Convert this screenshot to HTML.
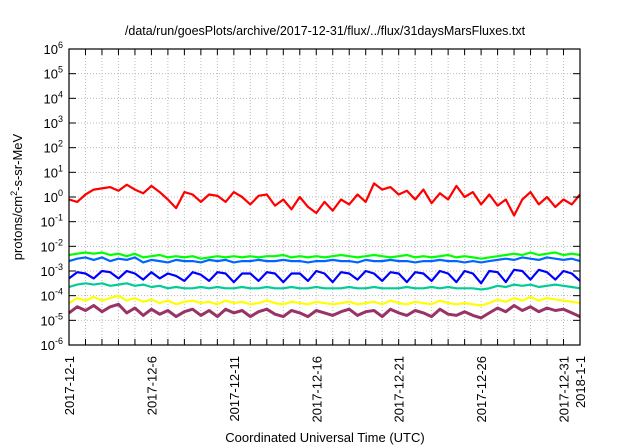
<!DOCTYPE html>
<html><head><meta charset="utf-8"><style>
body{margin:0;background:#fff;}
svg{display:block;font-family:"Liberation Sans",sans-serif;}
</style></head><body>
<svg id="chart" width="640" height="448" viewBox="0 0 640 448">
<text x="325" y="35" font-size="12.5" text-anchor="middle">/data/run/goesPlots/archive/2017-12-31/flux/../flux/31daysMarsFluxes.txt</text>
<text x="325" y="442" font-size="13" text-anchor="middle">Coordinated Universal Time (UTC)</text>
<text transform="translate(22,197) rotate(-90)" font-size="13" text-anchor="middle">protons/cm<tspan font-size="9" dy="-5">2</tspan><tspan dy="5">-s-sr-MeV</tspan></text>
<g id="grid"></g><g id="series"></g><g id="axes"></g>
</svg>
<script>
const yTickExps=[6,5,4,3,2,1,0,-1,-2,-3,-4,-5,-6];
const xTickLabels=["2017-12-1","2017-12-6","2017-12-11","2017-12-16","2017-12-21","2017-12-26","2017-12-31","2018-1-1"];
const xTickDays=[0,5,10,15,20,25,30,31];
const totalDays=31;
const red=[-0.1,-0.2,0.1,0.3,0.35,0.4,0.25,0.5,0.3,0.15,0.45,0.2,-0.1,-0.45,0.2,0.1,-0.2,0.1,0.05,-0.2,0.2,0.0,-0.3,0.05,0.1,-0.35,-0.1,-0.5,0.0,-0.4,-0.65,-0.2,-0.55,-0.1,-0.3,0.1,-0.2,0.55,0.3,0.4,0.1,0.25,-0.1,0.3,-0.25,0.15,-0.1,0.45,0.0,0.2,-0.3,0.1,-0.35,-0.1,-0.75,-0.1,0.2,-0.3,0.0,-0.4,-0.1,-0.3,0.1];
const green=[-2.35,-2.3,-2.25,-2.3,-2.25,-2.35,-2.3,-2.4,-2.3,-2.45,-2.4,-2.35,-2.45,-2.4,-2.45,-2.4,-2.5,-2.45,-2.4,-2.45,-2.4,-2.45,-2.4,-2.45,-2.4,-2.4,-2.35,-2.45,-2.4,-2.45,-2.4,-2.45,-2.4,-2.35,-2.4,-2.45,-2.4,-2.35,-2.4,-2.45,-2.4,-2.35,-2.45,-2.4,-2.45,-2.4,-2.35,-2.45,-2.4,-2.45,-2.5,-2.45,-2.4,-2.35,-2.3,-2.35,-2.25,-2.35,-2.3,-2.25,-2.35,-2.3,-2.35];
const lightBlue=[-2.6,-2.5,-2.45,-2.55,-2.45,-2.6,-2.5,-2.55,-2.45,-2.65,-2.55,-2.6,-2.65,-2.55,-2.6,-2.6,-2.65,-2.55,-2.6,-2.55,-2.65,-2.6,-2.6,-2.55,-2.6,-2.6,-2.55,-2.6,-2.6,-2.65,-2.6,-2.6,-2.55,-2.6,-2.6,-2.65,-2.55,-2.6,-2.6,-2.55,-2.6,-2.6,-2.65,-2.6,-2.6,-2.55,-2.6,-2.6,-2.65,-2.6,-2.65,-2.6,-2.55,-2.5,-2.55,-2.45,-2.5,-2.55,-2.45,-2.5,-2.55,-2.5,-2.6];
const blue=[-3.3,-3.05,-3.1,-3.3,-3.0,-3.05,-3.3,-3.0,-3.1,-3.35,-3.05,-3.3,-3.1,-3.2,-3.4,-3.05,-3.15,-3.4,-3.05,-3.1,-3.45,-3.1,-3.1,-3.4,-3.05,-3.1,-3.45,-3.1,-3.1,-3.4,-3.0,-3.1,-3.45,-3.05,-3.1,-3.35,-3.0,-3.1,-3.4,-3.05,-3.1,-3.45,-3.05,-3.1,-3.4,-3.0,-3.1,-3.45,-3.0,-3.1,-3.5,-3.0,-3.05,-3.45,-2.95,-3.0,-3.35,-2.95,-3.05,-3.35,-3.0,-3.1,-3.4];
const teal=[-3.65,-3.55,-3.5,-3.55,-3.5,-3.6,-3.55,-3.5,-3.6,-3.55,-3.65,-3.6,-3.7,-3.65,-3.7,-3.7,-3.65,-3.7,-3.65,-3.7,-3.7,-3.65,-3.7,-3.7,-3.65,-3.7,-3.7,-3.65,-3.7,-3.7,-3.65,-3.7,-3.7,-3.7,-3.65,-3.7,-3.7,-3.65,-3.7,-3.7,-3.7,-3.65,-3.7,-3.7,-3.65,-3.7,-3.65,-3.7,-3.7,-3.7,-3.75,-3.7,-3.6,-3.65,-3.55,-3.6,-3.55,-3.65,-3.6,-3.55,-3.6,-3.65,-3.7];
const yellow=[-4.3,-4.1,-4.2,-4.05,-4.2,-4.1,-4.0,-4.2,-4.1,-4.25,-4.15,-4.3,-4.2,-4.35,-4.25,-4.2,-4.3,-4.25,-4.35,-4.2,-4.3,-4.25,-4.35,-4.3,-4.2,-4.3,-4.35,-4.25,-4.3,-4.35,-4.25,-4.3,-4.35,-4.3,-4.25,-4.35,-4.3,-4.25,-4.35,-4.2,-4.3,-4.35,-4.25,-4.3,-4.35,-4.2,-4.3,-4.35,-4.3,-4.35,-4.4,-4.3,-4.15,-4.25,-4.1,-4.2,-4.05,-4.2,-4.1,-4.15,-4.2,-4.25,-4.3];
const purple=[-4.7,-4.45,-4.6,-4.4,-4.65,-4.45,-4.35,-4.7,-4.5,-4.8,-4.55,-4.75,-4.6,-4.85,-4.65,-4.55,-4.8,-4.6,-4.85,-4.55,-4.7,-4.6,-4.85,-4.65,-4.55,-4.75,-4.85,-4.6,-4.7,-4.85,-4.6,-4.7,-4.8,-4.65,-4.55,-4.8,-4.65,-4.6,-4.85,-4.55,-4.7,-4.8,-4.6,-4.7,-4.85,-4.55,-4.75,-4.8,-4.65,-4.8,-4.9,-4.7,-4.5,-4.65,-4.4,-4.6,-4.45,-4.65,-4.5,-4.6,-4.55,-4.7,-4.85];
const seriesList=[["purple-series",purple,"#993366",3],["yellow-series",yellow,"#ffff00",2.2],["teal-series",teal,"#00cc99",2.2],["blue-series",blue,"#0000ff",2.2],["light-blue-series",lightBlue,"#0066ff",2.2],["green-series",green,"#00ff00",2.2],["red-series",red,"#ff0000",2.2]];
const L=69,R=580,T=49,B=345;
const NS="http://www.w3.org/2000/svg";
function xs(d){return L+(R-L)*d/totalDays;}
function ys(e){return T+(B-T)*(6-e)/12;}
function mk(tag,attrs,parent){const el=document.createElementNS(NS,tag);for(const k in attrs)el.setAttribute(k,attrs[k]);parent.appendChild(el);return el;}
const grid=document.getElementById('grid'),axes=document.getElementById('axes'),ser=document.getElementById('series');
for(let d=1;d<totalDays;d++){const g=mk('line',{x1:xs(d),x2:xs(d),y1:T,y2:B,stroke:'#bbb','stroke-width':1,'stroke-dasharray':'1,2'},grid);


const t1=mk('line',{x1:xs(d),x2:xs(d),y1:T,y2:T+6,stroke:'#000','stroke-width':1},axes);


const t2=mk('line',{x1:xs(d),x2:xs(d),y1:B,y2:B-6,stroke:'#000','stroke-width':1},axes);

}
yTickExps.forEach(e=>{const y=ys(e);
if(e<6&&e>-6){const g=mk('line',{x1:L,x2:R,y1:y,y2:y,stroke:'#bbb','stroke-width':1,'stroke-dasharray':'1,2'},grid);

}
const t=mk('line',{x1:L,x2:L+7,y1:y,y2:y,stroke:'#000'},axes);


const t2=mk('line',{x1:R,x2:R-7,y1:y,y2:y,stroke:'#000'},axes);


const tx=mk('text',{x:L-6,y:y+5,'font-size':13,'text-anchor':'end'},axes);


tx.textContent='10';const s=mk('tspan',{'font-size':9,dy:-6},tx);s.textContent=e;});
xTickLabels.forEach((lab,i)=>{const x=xs(xTickDays[i]);
const tx=mk('text',{transform:`translate(${x+5},356) rotate(-90)`,'font-size':13,'text-anchor':'end'},axes);


tx.textContent=lab;});
const fr=mk('rect',{x:L,y:T,width:R-L,height:B-T,fill:'none',stroke:'#000','stroke-width':1.2},axes);


seriesList.forEach(([name,vals,col,w])=>{const n=vals.length;
const pts=vals.map((v,i)=>xs(i*totalDays/(n-1)).toFixed(1)+','+ys(v).toFixed(1)).join(' ');
const p=mk('polyline',{points:pts,fill:'none',stroke:col,'stroke-width':w,'stroke-linejoin':'round'},ser);

});
</script>
</body></html>
